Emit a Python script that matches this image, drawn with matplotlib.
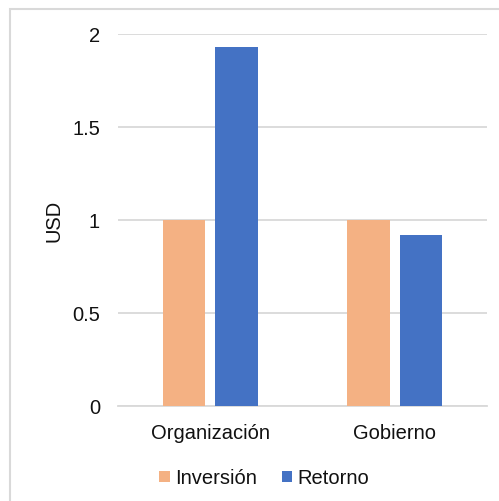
import numpy as np
import matplotlib.pyplot as plt
from matplotlib.patches import Rectangle

plt.rcParams['font.family'] = ['Liberation Sans', 'DejaVu Sans']

categories = ['Organización', 'Gobierno']
inversion = [1.0, 1.0]
retorno = [1.93, 0.92]
series_names = ['Inversión', 'Retorno']
colors = ['#F4B183', '#4472C4']
grid_col = '#D9D9D9'

fig = plt.figure(figsize=(4.99, 5.02), dpi=100)
ax = fig.add_axes([118 / 499, 95 / 502, 369 / 499, 372 / 502])

x = np.arange(len(categories))
w = 0.23
off = 0.143
ax.bar(x - off, inversion, w, color=colors[0], label=series_names[0], zorder=3)
ax.bar(x + off, retorno, w, color=colors[1], label=series_names[1], zorder=3)

ax.set_xlim(-0.5, 1.5)
ax.set_ylim(0, 2)
ax.set_yticks([0, 0.5, 1, 1.5, 2])
ax.set_yticklabels(['0', '0.5', '1', '1.5', '2'])
ax.set_xticks(x)
ax.set_xticklabels(categories)
ax.yaxis.grid(True, color=grid_col, lw=1.3, zorder=0)
ax.tick_params(axis='both', length=0, labelsize=14.5, colors='#111111')
ax.tick_params(axis='y', pad=13)
ax.tick_params(axis='x', pad=12.5)
for s in ['top', 'right', 'left']:
    ax.spines[s].set_visible(False)
ax.spines['bottom'].set_color(grid_col)
ax.spines['bottom'].set_linewidth(1.3)
ax.set_ylabel('USD', fontsize=14.5, labelpad=6.5, color='#111111')

leg = fig.legend(loc='center', bbox_to_anchor=(0.53, 0.046), ncol=2, frameon=False,
                 fontsize=14.5, handlelength=0.5, handleheight=0.5,
                 handletextpad=0.3, columnspacing=1.2)
for t in leg.get_texts():
    t.set_color('#111111')

# outer chart frame (only top and left edges fall inside the image)
fig.patches.append(Rectangle((10 / 499, -0.1), 1.2, (492 / 502) + 0.1,
                             transform=fig.transFigure, fill=False,
                             edgecolor=grid_col, lw=1.5))

fig.savefig('out.png', dpi=100)
